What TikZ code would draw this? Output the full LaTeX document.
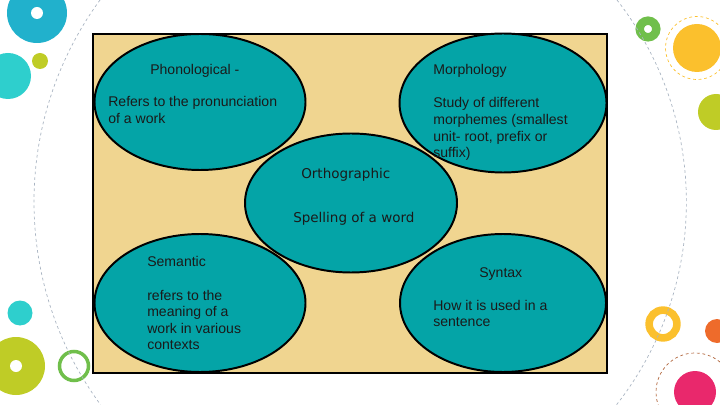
\documentclass[tikz,border=0pt]{standalone}
\usepackage{fontspec}
\setmainfont{Liberation Sans}
\newfontfamily\orthofont{DejaVu Sans}
\usepackage{xcolor}
\usepackage{tikz}
\usetikzlibrary{shapes.geometric}

\definecolor{sandbg}{HTML}{F0D590}
\definecolor{tealbub}{HTML}{04A4A7}
\definecolor{inkdark}{HTML}{1A1A1A}
\definecolor{decoblue}{HTML}{21B1CC}
\definecolor{decoturq}{HTML}{2ECFCD}
\definecolor{decolime}{HTML}{BFCC26}
\definecolor{decogreen}{HTML}{70BF4B}
\definecolor{decoyellow}{HTML}{FBC02D}
\definecolor{decoorange}{HTML}{EE6B2B}
\definecolor{decopink}{HTML}{E9286C}
\definecolor{decobrown}{HTML}{B0643A}
\definecolor{arcgray}{HTML}{A9B4C2}

% lines stacked with the first baseline as the node's base
\newcommand{\bublines}[1]{\begin{tabular}[t]{@{}l@{}}#1\end{tabular}}

\tikzset{
    bubble/.style={ellipse, fill=tealbub, inner sep=0pt},
    bubbleline/.style={ellipse, draw=black, line width=1.4pt, inner sep=0pt},
    bubtext/.style={anchor=base west, inner sep=0pt, text=inkdark,
        font=\fontsize{10}{11.8}\selectfont},
    orthtext/.style={bubtext, font=\orthofont\fontsize{9.6}{11.5}\selectfont},
    ringdash/.style={dash pattern=on 2pt off 2pt, line width=0.5pt}
}

\begin{document}
\begin{tikzpicture}[x=0.025cm, y=-0.025cm]
    \useasboundingbox (0, 0) rectangle (720, 405);

    \begin{scope}
        \clip (0, 0) rectangle (720, 405);
        \fill[decoblue] (37, 13) circle[radius=30];
        \fill[white] (37, 13) circle[radius=6];
        \fill[decoturq] (8, 76) circle[radius=23];
        \fill[decolime] (40, 61) circle[radius=8];
        \draw[decogreen, line width=6pt] (648, 29) circle[radius=8.3];
        \fill[decoyellow] (697, 48) circle[radius=24];
        \draw[decoyellow, ringdash] (697, 48) circle[radius=31.5];
        \fill[decolime] (716, 112) circle[radius=18];
        \fill[decoturq] (20, 313) circle[radius=12.5];
        \fill[decolime] (16, 366) circle[radius=29];
        \fill[white] (16, 366) circle[radius=6];
        \draw[decogreen, line width=2.5pt] (74, 366) circle[radius=14.5];
        \draw[decoyellow, line width=5.4pt] (663, 324) circle[radius=13.9];
        \fill[decoorange] (717, 331) circle[radius=12];
        \fill[decopink] (695, 392) circle[radius=21];
        \draw[decobrown, ringdash] (695, 392) circle[radius=39];
        \draw[arcgray, ringdash] (100, 0) arc[start angle=216.2, end angle=143.6, radius=342];
        \draw[arcgray, ringdash] (617, 0) arc[start angle=-37.9, end angle=38.1, radius=329];
    \end{scope}

    \filldraw[color=black, fill=sandbg, line width=0.8pt] (93, 34) rectangle (607, 373);

    % fills first, outlines on top
    \foreach \nm/\cx/\cy/\wd/\ht in {phon/200/102/211/136, morph/503/103/207/139,
        sem/200/303/211/138, syn/503/303/206/138, orth/351/203/212/139}
        \node[bubble, minimum width=\wd*0.025cm, minimum height=\ht*0.025cm] (\nm) at (\cx, \cy) {};
    \foreach \nm/\cx/\cy/\wd/\ht in {phon/200/102/211/136, morph/503/103/207/139,
        sem/200/303/211/138, syn/503/303/206/138, orth/351/203/212/139}
        \node[bubbleline, minimum width=\wd*0.025cm, minimum height=\ht*0.025cm] (\nm line) at (\cx, \cy) {};

    \node[bubtext] (phonhead) at (150, 75) {Phonological -};
    \node[bubtext] (phonbody) at (108, 107) {\bublines{Refers to the pronunciation\\of a work}};
    \node[bubtext] (morphhead) at (433, 75) {Morphology};
    \node[bubtext] (morphbody) at (433, 108) {\bublines{Study of different\\morphemes (smallest\\unit- root, prefix or\\suffix)}};
    \node[orthtext] (orthhead) at (301, 179) {Orthographic};
    \node[orthtext] (orthbody) at (293, 223) {Spelling of a word};
    \node[bubtext] (semhead) at (147, 266) {Semantic};
    \node[bubtext] (sembody) at (147, 300) {\bublines{refers to the\\meaning of a\\work in various\\contexts}};
    \node[bubtext] (synhead) at (479, 277) {Syntax};
    \node[bubtext] (synbody) at (433, 310) {\bublines{How it is used in a\\sentence}};
\end{tikzpicture}
\end{document}
